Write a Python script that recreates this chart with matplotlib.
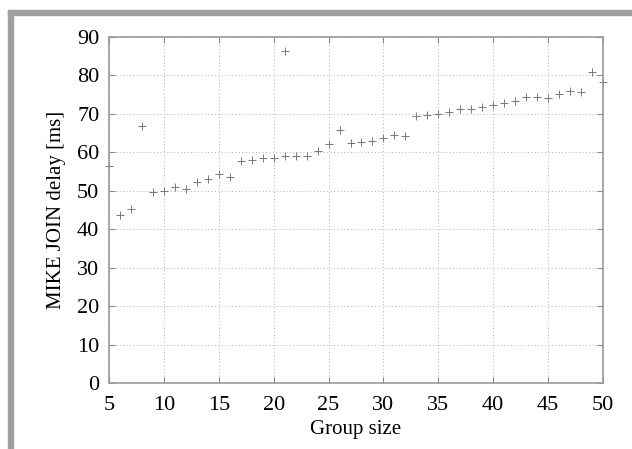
import matplotlib
matplotlib.use("Agg")
import matplotlib.pyplot as plt
from matplotlib.patches import Rectangle

# group size and measured join delay (ms)
group_size = [5, 6, 7, 8, 9, 10, 11, 12, 13, 14, 15, 16, 17, 18, 19, 20, 21, 21,
              22, 23, 24, 25, 26, 27, 28, 29, 30, 31, 32, 33, 34, 35, 36, 37, 38,
              39, 40, 41, 42, 43, 44, 45, 46, 47, 48, 49, 50]
delay_ms = [56.4, 43.7, 45.3, 66.9, 49.8, 50.0, 51.1, 50.4, 52.4, 53.0, 54.3, 53.5,
            57.8, 58.1, 58.4, 58.5, 59.0, 86.4, 59.1, 59.1, 60.4, 62.2, 65.7, 62.5,
            62.7, 62.9, 63.6, 64.5, 64.3, 69.5, 69.8, 70.1, 70.6, 71.3, 71.3, 71.9,
            72.4, 72.9, 73.3, 74.4, 74.4, 74.2, 75.3, 75.9, 75.8, 81.0, 78.3]

xticks = [5, 10, 15, 20, 25, 30, 35, 40, 45, 50]
yticks = [0, 10, 20, 30, 40, 50, 60, 70, 80, 90]

plt.rcParams['font.family'] = ['Liberation Serif', 'DejaVu Serif']

fig = plt.figure(figsize=(6.32, 4.49), dpi=100)
W, H = 632, 449

# gray frame at top and left
fig.patches.append(Rectangle((8 / W, 0), 5 / W, 1 - 10 / H, transform=fig.transFigure,
                             color='#a0a0a0', zorder=0))
fig.patches.append(Rectangle((8 / W, 1 - 15 / H), 1, 5 / H, transform=fig.transFigure,
                             color='#a0a0a0', zorder=0))

ax = fig.add_axes([109 / W, 1 - 383 / H, (603 - 109) / W, (383 - 37) / H])
ax.plot(group_size, delay_ms, linestyle='none', marker='+', markersize=6,
        markeredgewidth=0.7, color='#777777', clip_on=False)

ax.set_xlim(5, 50)
ax.set_ylim(0, 90)
ax.set_xticks(xticks)
ax.set_yticks(yticks)
ax.grid(True, linestyle=(0, (1, 2.5)), color='#b0b0b0', linewidth=0.7)
ax.tick_params(direction='in', top=True, right=True, length=4, color='#888888',
               labelsize=16, pad=9)
ax.tick_params(axis='y', pad=7)
for s in ax.spines.values():
    s.set_color('#999999')
    s.set_linewidth(1.2)

ax.set_xlabel('Group size', fontsize=15, labelpad=4)
ax.set_ylabel('MIKE JOIN delay [ms]', fontsize=15, labelpad=8)

fig.savefig('out.png', dpi=100)
